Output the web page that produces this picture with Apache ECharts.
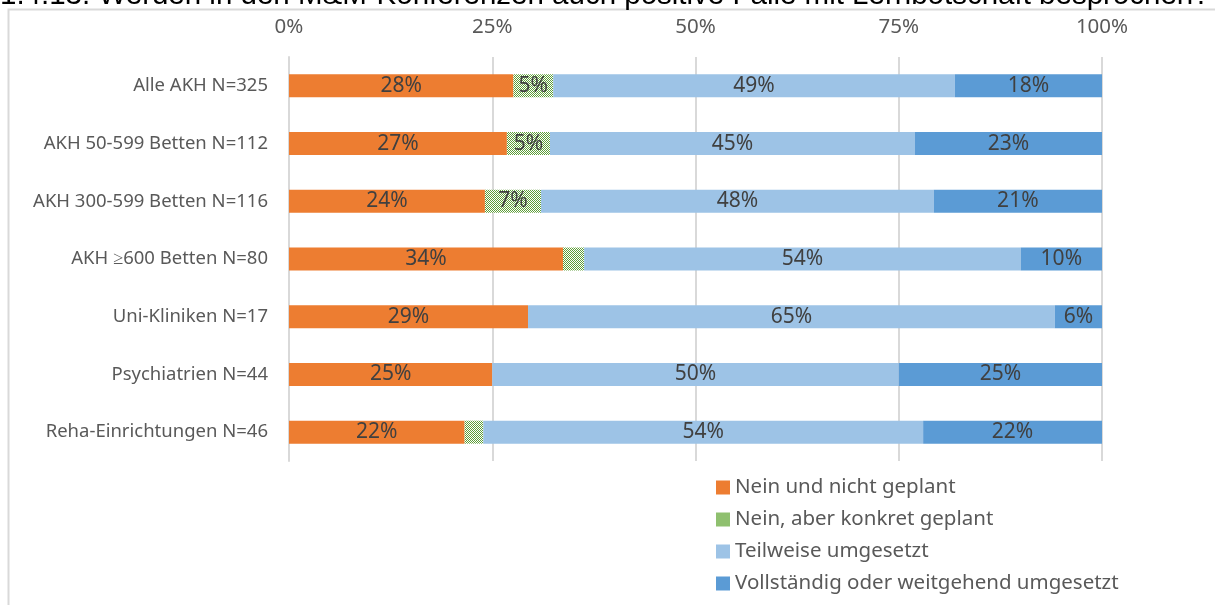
<!DOCTYPE html>
<html>
<head>
<meta charset="utf-8">
<script src="https://cdn.jsdelivr.net/npm/echarts@6/dist/echarts.min.js"></script>
<style>
  html, body { margin: 0; padding: 0; background: #fff; }
  #chart { width: 1215px; height: 605px; }
</style>
</head>
<body>
<div id="chart"></div>
<script>
// Kategorien und Werte (Anteile in %)
var categories = ['Alle AKH N=325', 'AKH 50-599 Betten N=112', 'AKH 300-599 Betten N=116',
  'AKH ≥600 Betten N=80', 'Uni-Kliniken N=17', 'Psychiatrien N=44', 'Reha-Einrichtungen N=46']
var seriesNames = ['Nein und nicht geplant', 'Nein, aber konkret geplant',
  'Teilweise umgesetzt', 'Vollständig oder weitgehend umgesetzt']
var neinNicht = [27.6, 26.8, 24.1, 33.7, 29.4, 25.0, 21.6]
var neinGeplant = [4.9, 5.3, 6.9, 2.6, 0, 0, 2.3]
var teilweise = [49.4, 44.9, 48.3, 53.7, 64.8, 50.0, 54.1]
var vollstaendig = [18.1, 23.0, 20.7, 10.0, 5.8, 25.0, 22.0]
var tickLabels = ['0%', '25%', '50%', '75%', '100%']
var title = '1.4.13. Werden in den M&M-Konferenzen auch positive Fälle mit Lernbotschaft besprochen?'

var font = 'Noto Sans'

// gruen kariertes Muster wie in Excel
function checker() {
  var c = document.createElement('canvas')
  c.width = 2
  c.height = 2
  var ctx = c.getContext('2d')
  ctx.fillStyle = '#ffffff'
  ctx.fillRect(0, 0, 2, 2)
  ctx.fillStyle = '#5e9e38'
  ctx.fillRect(0, 0, 1, 1)
  ctx.fillRect(1, 1, 1, 1)
  return c
}

var pattern = { image: checker(), repeat: 'repeat' }
var colors = ['#ed7d31', pattern, '#9dc3e6', '#5b9bd5']
var values = [neinNicht, neinGeplant, teilweise, vollstaendig]

var chart = echarts.init(document.getElementById('chart'))

var series = []
for (let i = 0; i < values.length; i++) {
  series.push({
    name: seriesNames[i],
    type: 'bar',
    stack: 'total',
    barWidth: 23,
    data: values[i],
    itemStyle: { color: colors[i] },
    label: {
      show: true,
      position: 'inside',
      color: '#404040',
      fontFamily: font,
      fontSize: 21,
      formatter: function (p) {
        return p.value < 4 ? '' : Math.round(p.value) + '%'
      }
    }
  })
}

var legendData = seriesNames.map(function (n, i) {
  return { name: n, itemStyle: { color: i == 1 ? '#8fc06f' : colors[i] } }
})

var option = {
  animation: false,
  backgroundColor: '#fff',
  graphic: [
    {
      type: 'rect',
      shape: { x: 8.5, y: 9.5, width: 1400, height: 800 },
      style: { fill: null, stroke: '#d9d9d9', lineWidth: 2 },
      silent: true
    },
    {
      type: 'text',
      left: 0,
      top: -19,
      style: { text: title, font: '29.5px "Liberation Sans"', fill: '#000' },
      silent: true
    }
  ],
  grid: { left: 289, right: 113, top: 57, bottom: 144 },
  legend: {
    orient: 'vertical',
    left: 716,
    top: 477,
    height: 128,
    padding: 0,
    itemWidth: 14,
    itemHeight: 14,
    itemGap: 11,
    icon: 'rect',
    textStyle: { color: '#595959', fontFamily: font, fontSize: 20.5 },
    data: legendData
  },
  xAxis: {
    type: 'value',
    position: 'top',
    min: 0,
    max: 100,
    interval: 25,
    axisLine: { show: false },
    axisTick: { show: false },
    splitLine: { lineStyle: { color: '#d9d9d9', width: 2 } },
    axisLabel: {
      margin: 19,
      color: '#595959',
      fontFamily: font,
      fontSize: 20.5,
      formatter: function (v) { return tickLabels[v / 25] }
    }
  },
  yAxis: {
    type: 'category',
    inverse: true,
    data: categories,
    axisLine: { show: true, lineStyle: { color: '#d9d9d9', width: 2 } },
    axisTick: { show: false },
    axisLabel: { margin: 21, color: '#595959', fontFamily: font, fontSize: 18.5 }
  },
  series: series
}

chart.setOption(option)
</script>
</body>
</html>
